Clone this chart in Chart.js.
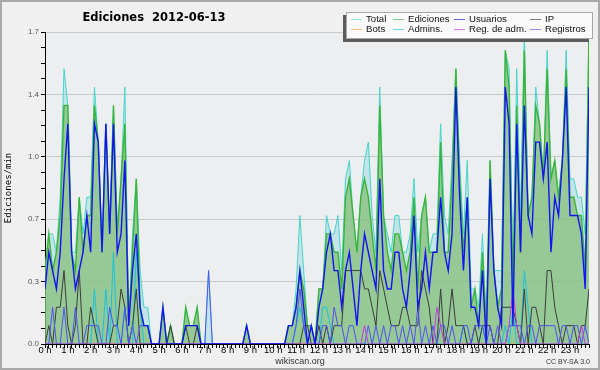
<!DOCTYPE html>
<html>
<head>
<meta charset="utf-8">
<script src="https://cdn.jsdelivr.net/npm/chart.js@4.4.0/dist/chart.umd.min.js"></script>
<style>
html,body{margin:0;padding:0;background:#f0f0f0;}
canvas{display:block;}
</style>
</head>
<body>
<canvas id="c" width="600" height="370"></canvas>
<script>
// ---------- data ----------
const chartTitle = 'Ediciones  2012-06-13';
const yTitle = 'Ediciones/min';
const hourLabels = ['0 h','1 h','2 h','3 h','4 h','5 h','6 h','7 h','8 h','9 h','10 h','11 h',
                    '12 h','13 h','14 h','15 h','16 h','17 h','18 h','19 h','20 h','21 h','22 h','23 h'];
const yTickLabels = ['0.0','0.3','0.7','1.0','1.4','1.7'];
const yMax = 1.7;

// one value per 10 minutes (6 per hour), edits per minute
const total = [
  0.4,0.6,0.6,0.5,0.8,1.5,  1.3,0.5,0.5,0.8,0.6,0.8,  0.8,1.4,1.1,0.5,1.2,0.6,  1.3,0.6,0.9,1.4,0.1,0.6,
  0.9,0.4,0.2,0.2,0,0,      0,0.2,0,0.1,0,0,          0,0.2,0.1,0.1,0.2,0,      0,0.4,0,0,0,0,
  0,0,0,0,0,0.1,            0,0,0,0,0,0,              0,0,0,0,0.1,0.1,          0.3,0.7,0.4,0.1,0.1,0,
  0.3,0.3,0.7,0.6,0.6,0.7,  0.4,0.9,1.0,0.7,0.5,0.8,  1.0,1.1,0.7,0.5,1.4,0.7,  0.6,0.5,0.7,0.7,0.5,0.5,
  0.6,0.9,0.5,0.7,0.8,0.5,  0.6,0.6,1.2,0.7,0.6,1.0,  1.5,1.0,0.6,1.0,0.3,0.3,  0.2,0.6,0.1,1.0,0.4,0.4,
  0.4,1.6,1.5,0.4,1.5,0.7,  1.7,0.7,0.8,1.4,1.2,0.9,  1.6,0.9,1.0,0.8,1.0,1.6,  0.9,0.9,0.8,0.8,0.6,1.7
];
const edits = [
  0.4,0.6,0.4,0.5,0.7,1.3,  1.3,0.5,0.4,0.8,0.5,0.7,  0.7,1.3,1.1,0.5,1.2,0.6,  1.3,0.6,0.9,1.2,0.1,0.5,
  0.9,0.2,0.1,0.1,0,0,      0,0.2,0,0.1,0,0,          0,0.2,0.1,0.1,0.2,0,      0,0,0,0,0,0,
  0,0,0,0,0,0.1,            0,0,0,0,0,0,              0,0,0,0,0.1,0.1,          0.2,0.4,0.3,0.1,0.1,0,
  0.3,0.3,0.6,0.6,0.5,0.5,  0.3,0.8,0.9,0.7,0.5,0.8,  0.9,0.8,0.6,0.4,1.3,0.7,  0.5,0.4,0.6,0.6,0.5,0.4,
  0.5,0.8,0.3,0.7,0.8,0.5,  0.5,0.5,1.1,0.5,0.5,0.9,  1.5,0.9,0.5,0.8,0.2,0.3,  0.1,0.5,0.1,1.0,0.4,0.2,
  0.3,1.6,1.4,0.3,1.3,0.5,  1.6,0.7,0.8,1.3,1.2,0.9,  1.5,0.9,1.0,0.8,1.0,1.5,  0.8,0.8,0.7,0.7,0.4,1.7
];
const users = [
  0.3,0.5,0.4,0.3,0.5,0.9,  1.2,0.5,0.3,0.4,0.5,0.7,  0.5,1.2,1.1,0.5,1.2,0.6,  1.2,0.5,0.6,1.0,0.1,0.4,
  0.6,0.2,0.1,0.1,0,0,      0,0.2,0,0,0,0,            0,0.1,0.1,0.1,0.1,0,      0,0,0,0,0,0,
  0,0,0,0,0,0.1,            0,0,0,0,0,0,              0,0,0,0,0.1,0.1,          0.2,0.4,0.2,0,0.1,0,
  0.2,0.3,0.5,0.6,0.4,0.4,  0.2,0.4,0.5,0.3,0.1,0.4,  0.6,0.5,0.4,0.3,0.9,0.4,  0.3,0.3,0.5,0.5,0.3,0.2,
  0.4,0.7,0.2,0.3,0.5,0.3,  0.5,0.5,0.8,0.5,0.4,0.6,  1.4,0.8,0.4,0.8,0.2,0.2,  0.1,0.4,0,0.9,0.4,0.2,
  0.1,1.4,1.2,0.1,1.2,0.5,  1.3,0.7,0.6,1.1,1.1,0.9,  1.1,0.5,0.8,0.7,1.0,1.4,  0.7,0.7,0.7,0.6,0.3,1.4
];
const ip = [
  0,0.1,0,0.2,0.2,0.4,      0.1,0,0.1,0.4,0,0,        0.2,0.1,0,0,0,0,          0.1,0.1,0.3,0.2,0,0.1,
  0.3,0,0,0,0,0,            0,0,0,0.1,0,0,            0,0.1,0,0,0.1,0,          0,0,0,0,0,0,
  0,0,0,0,0,0,              0,0,0,0,0,0,              0,0,0,0,0,0,              0,0,0.1,0.1,0,0,
  0.1,0,0.1,0,0.1,0.1,      0.1,0.4,0.4,0.4,0.4,0.4,  0.3,0.3,0.2,0.1,0.4,0.3,  0.2,0.1,0.1,0.1,0.2,0.2,
  0.1,0.1,0.1,0.4,0.3,0.2,  0,0,0.3,0,0.1,0.3,        0.1,0.1,0.1,0,0,0.1,      0,0.1,0.1,0.1,0,0,
  0.2,0.2,0.2,0.2,0.1,0,    0.3,0,0.2,0.2,0.1,0,      0.4,0.4,0.2,0.1,0,0.1,    0.1,0.1,0,0.1,0.1,0.3
];
const bots = [
  0,0,0,0,0,0, 0,0,0,0,0,0, 0,0,0,0,0,0, 0,0,0,0,0,0,
  0,0,0,0,0,0, 0,0,0,0,0,0, 0,0,0,0,0,0, 0,0,0,0,0,0,
  0,0,0,0,0,0, 0,0,0,0,0,0, 0,0,0,0,0,0, 0,0,0,0,0,0,
  0,0,0,0,0,0, 0,0,0,0,0,0, 0,0,0,0,0,0, 0,0,0,0,0,0,
  0,0,0,0,0,0, 0,0,0,0,0,0, 0,0,0,0,0,0, 0,0,0,0,0,0,
  0,0,0,0,0,0, 0,0,0,0,0,0, 0,0,0,0,0,0, 0,0,0,0,0,0
];
const admins = [
  0,0,0,0,0,0,              0,0,0,0,0,0,              0,0.3,0,0,0.3,0,          0.5,0,0,0.2,0,0,
  0.5,0.2,0,0,0,0,          0,0,0,0,0,0,              0,0,0,0,0,0,              0,0,0,0,0,0,
  0,0,0,0,0,0,              0,0,0,0,0,0,              0,0,0,0,0,0,              0.1,0.2,0.1,0,0,0,
  0,0.2,0.2,0.1,0,0,        0,0,0,0,0,0,              0,0,0,0,0,0,              0,0,0,0,0,0,
  0,0,0,0,0,0,              0,0,0,0,0,0,              0,0,0.1,0,0,0,            0,0.1,0,0,0,0,
  0,0.1,0,0.2,0,0,          0.4,0.2,0,0,0,0,          0,0,0,0,0,0,              0,0,0,0,0,0
];
const regAdm = [
  0,0,0,0,0,0, 0,0,0,0,0,0, 0,0,0,0,0,0, 0,0,0,0,0,0,
  0,0,0,0,0,0, 0,0,0,0,0,0, 0,0,0,0,0,0, 0,0,0,0,0,0,
  0,0,0,0,0,0, 0,0,0,0,0,0, 0,0,0,0,0,0, 0,0,0,0,0,0,
  0,0,0,0,0,0, 0,0,0,0,0,0, 0.1,0,0,0,0,0, 0,0,0,0,0,0,
  0,0,0,0,0,0, 0,0.2,0.1,0,0,0, 0,0,0,0,0,0, 0,0,0,0,0,0,
  0,0,0.1,0.3,0.1,0, 0,0,0,0,0,0, 0,0,0,0,0,0, 0,0,0,0.1,0,0
];
const registros = [
  0,0,0.2,0,0,0.2,          0,0,0.2,0,0,0.1,          0.1,0.1,0.1,0,0,0.2,      0.1,0.1,0,0.2,0,0.1,
  0,0.1,0.1,0.1,0,0,        0,0,0,0,0,0,              0,0,0,0,0,0,              0,0.4,0,0,0,0,
  0,0,0,0,0,0,              0,0,0,0,0,0,              0,0,0,0,0,0,              0.1,0.3,0.1,0,0,0,
  0,0.1,0.1,0,0.2,0.1,      0.1,0,0.1,0.1,0,0,        0,0.1,0,0.1,0,0.1,        0,0.1,0.1,0,0.1,0,
  0.1,0,0.2,0,0.1,0,        0.1,0,0.1,0.1,0,0.1,      0,0,0.1,0.1,0,0.1,        0.1,0.1,0,0.1,0,0.1,
  0,0,0.1,0.1,0.1,0.1,      0,0.1,0.1,0,0.1,0.1,      0.1,0.1,0.1,0,0.1,0.1,    0,0.1,0.1,0,0.1,0
];

// slot index (10-minute steps) used as x positions
const slots = total.map((_, i) => i);
const yTickValues = Array.from({length: 21}, (_, k) => yMax * k / 20);

// ---------- chart ----------
const series = [
  {label:'Total',        data: total,     borderColor:'#46d6cc', borderWidth:1,   fill:'origin', backgroundColor:'rgba(157,218,228,0.5)', order:8},
  {label:'Ediciones',    data: edits,     borderColor:'#3cb43a', borderWidth:1.4, fill:'origin', backgroundColor:'rgba(119,183,94,0.6)', order:7},
  {label:'Usuarios',     data: users,     borderColor:'#1414f0', borderWidth:1.4, fill:false, order:1},
  {label:'IP',           data: ip,        borderColor:'#3c3c3c', borderWidth:1,   fill:false, order:4},
  {label:'Bots',         data: bots,      borderColor:'#f0a040', borderWidth:1,   fill:false, order:6},
  {label:'Admins.',      data: admins,    borderColor:'#18c4dc', borderWidth:1,   fill:false, order:5},
  {label:'Reg. de adm.', data: regAdm,    borderColor:'#c43ce0', borderWidth:1,   fill:false, order:2},
  {label:'Registros',    data: registros, borderColor:'#5252f2', borderWidth:1,   fill:false, order:3}
];

const decor = {
  id: 'decor',
  beforeDraw(chart) {
    const ctx = chart.ctx, a = chart.chartArea;
    ctx.save();
    ctx.fillStyle = '#f0f0f0';
    ctx.fillRect(0, 0, chart.width, chart.height);
    ctx.fillStyle = '#eceef0';
    ctx.fillRect(a.left, a.top, a.right - a.left, a.bottom - a.top);
    ctx.restore();
  },
  afterDraw(chart) {
    const ctx = chart.ctx;
    ctx.save();
    // outer frame
    ctx.strokeStyle = '#a9a9a9';
    ctx.lineWidth = 2;
    ctx.strokeRect(1, 1, chart.width - 2, chart.height - 2);
    // title
    ctx.fillStyle = '#000';
    ctx.font = 'bold 11.5px "DejaVu Sans"';
    ctx.textAlign = 'center';
    ctx.textBaseline = 'alphabetic';
    ctx.fillText(chartTitle, 154, 21);
    // legend box with shadow
    ctx.fillStyle = '#5c5c5c';
    ctx.fillRect(343, 15, 246, 27);
    ctx.fillStyle = '#fafafa';
    ctx.fillRect(346, 12, 247, 27);
    ctx.strokeStyle = '#a8a8a8';
    ctx.lineWidth = 1;
    ctx.strokeRect(346.5, 12.5, 246, 26);
    const colX = [366, 408, 469, 545];
    const rowY = [19, 29];
    ctx.font = '9.6px "Liberation Sans"';
    ctx.textAlign = 'left';
    ctx.textBaseline = 'middle';
    chart.data.datasets.forEach((ds, i) => {
      const x = colX[i % 4], y = rowY[Math.floor(i / 4)];
      ctx.strokeStyle = ds.borderColor;
      ctx.globalAlpha = 0.65;
      ctx.beginPath();
      ctx.moveTo(x - 15, y + 0.5);
      ctx.lineTo(x - 4, y + 0.5);
      ctx.stroke();
      ctx.globalAlpha = 1;
      ctx.fillStyle = '#111';
      ctx.fillText(ds.label, x, y);
    });
    // credits
    ctx.fillStyle = '#333';
    ctx.font = '9px "Liberation Sans"';
    ctx.textAlign = 'center';
    ctx.fillText('wikiscan.org', 300, 362);
    ctx.font = '7px "Liberation Sans"';
    ctx.textAlign = 'right';
    ctx.fillText('CC BY-SA 3.0', 590, 362);
    ctx.restore();
  }
};

new Chart(document.getElementById('c'), {
  type: 'line',
  data: {
    labels: slots,
    datasets: series.map(s => Object.assign({pointRadius: 0, tension: 0}, s))
  },
  options: {
    responsive: false,
    animation: false,
    devicePixelRatio: 1,
    layout: {padding: {top: 32, right: 11, bottom: 0, left: 0}},
    plugins: {
      legend: {display: false},
      title: {display: false},
      tooltip: {enabled: false},
      filler: {drawTime: 'beforeDatasetsDraw'}
    },
    scales: {
      x: {
        type: 'linear', min: 0, max: slots.length - 1, z: 1,
        afterFit: s => { s.height = 26; },
        afterBuildTicks: s => { s.ticks = slots.map(v => ({value: v})); },
        ticks: {
          autoSkip: false, maxRotation: 0, minRotation: 0, padding: -3, color: '#000',
          font: {family: 'Liberation Sans', size: 9.5},
          callback: v => (v % 6 === 0 ? hourLabels[v / 6] : '')
        },
        grid: {drawOnChartArea: false, drawTicks: true, tickLength: 4, tickColor: '#000'},
        border: {display: true, color: '#000', width: 1}
      },
      y: {
        min: 0, max: yMax,
        afterFit: s => { s.width = 45; },
        afterBuildTicks: s => { s.ticks = yTickValues.map(v => ({value: v})); },
        ticks: {
          autoSkip: false, padding: 2, color: '#555',
          font: {family: 'Liberation Sans', size: 8},
          callback: (v, i) => (i % 4 === 0 ? yTickLabels[i / 4] : '')
        },
        grid: {
          color: c => (c.index % 4 === 0 ? '#c9c9c9' : 'rgba(0,0,0,0)'),
          tickColor: '#000', tickLength: 4, drawTicks: true
        },
        border: {display: true, color: '#000', width: 1},
        title: {display: true, text: yTitle, color: '#000',
                font: {family: 'DejaVu Sans Mono', size: 9}, padding: {top: 3, bottom: 0}}
      }
    }
  },
  plugins: [decor]
});
</script>
</body>
</html>
